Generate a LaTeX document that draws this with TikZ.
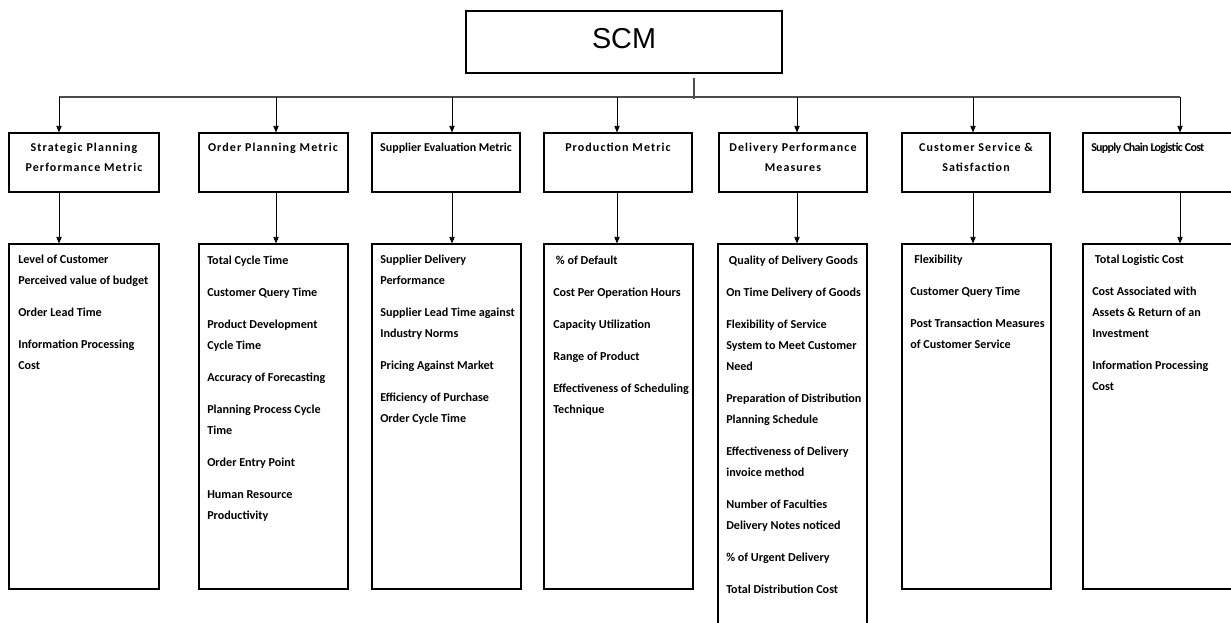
\documentclass[tikz,border=0pt]{standalone}
\usepackage{fontspec}
\setmainfont{Carlito}
\newfontfamily\arialf{Liberation Sans}
\usetikzlibrary{arrows.meta,fit}
\newcommand{\hlines}[1]{\begin{tabular}[t]{@{}c@{}}#1\end{tabular}}
\newcommand{\blines}[1]{\begin{tabular}[t]{@{}l@{}}#1\end{tabular}}
\begin{document}
\begin{tikzpicture}[x=0.75pt,y=-0.75pt,
  box/.style={draw=black,line width=0.8pt,inner sep=0pt,rectangle},
  topbox/.style={draw=black,line width=1.3pt,inner sep=0pt,rectangle},
  hdrtxt/.style={inner sep=0pt,font=\fontsize{9}{15}\selectfont\bfseries\addfontfeature{LetterSpace=9}},
  hdrtight/.style={inner sep=0pt,font=\fontsize{9}{15}\selectfont\bfseries},
  bodytxt/.style={inner sep=0pt,font=\fontsize{9.1}{15.75}\selectfont\bfseries},
  arr/.style={draw=black,line width=0.7pt,-{Triangle[length=5pt,width=4pt]}},
  bus/.style={draw=black!70,line width=1pt}]
\useasboundingbox (0,0) rectangle (1231,622);

% top node
\node[topbox,fit={(466,11)(782,73)}] (scm) {};
\node[inner sep=0pt,font=\arialf\fontsize{21.6}{24}\selectfont] (scmt) at (624,39) {SCM};

% bus
\coordinate (b1) at (59,97);
\coordinate (b2) at (276,97);
\coordinate (b3) at (452,97);
\coordinate (b4) at (617,97);
\coordinate (b5) at (797,97);
\coordinate (b6) at (973,97);
\coordinate (b7) at (1180,97);
\coordinate (s2) at (694,99);
\draw[bus] (b1) -- (b7);
\draw[bus] ([yshift=-3pt]scm.south -| s2) -- (s2);

% headers
\node[box,fit={(9,133)(159,192)}] (h1) {};
\node[box,fit={(199,133)(348,192)}] (h2) {};
\node[box,fit={(372,133)(520,192)}] (h3) {};
\node[box,fit={(544,133)(692,192)}] (h4) {};
\node[box,fit={(719,133)(867,192)}] (h5) {};
\node[box,fit={(902,133)(1050,192)}] (h6) {};
\node[box,fit={(1083,133)(1240,192)}] (h7) {};

\node[hdrtxt,anchor=base] (ht1) at (84,151.5) {\hlines{Strategic Planning\\Performance Metric}};
\node[hdrtxt,anchor=base] (ht2) at (273,151) {Order Planning Metric};
\node[hdrtight,anchor=base] (ht3) at (446,151) {Supplier Evaluation Metric};
\node[hdrtxt,anchor=base] (ht4) at (618,151) {Production Metric};
\node[hdrtxt,anchor=base] (ht5) at (793,151.5) {\hlines{Delivery Performance\\Measures}};
\node[hdrtxt,anchor=base] (ht6) at (976,151.5) {\hlines{Customer Service \&\\Satisfaction}};
\node[hdrtight,anchor=base west,font=\fontsize{9}{15}\selectfont\bfseries\addfontfeature{LetterSpace=-6}] (ht7) at (1091,151) {Supply Chain Logistic Cost};

% bodies
\node[box,fit={(9,244)(159,589)}] (d1) {};
\node[box,fit={(199,244)(348,589)}] (d2) {};
\node[box,fit={(372,244)(521,589)}] (d3) {};
\node[box,fit={(544,244)(693,589)}] (d4) {};
\node[box,fit={(718,244)(867,640)}] (d5) {};
\node[box,fit={(902,244)(1051,589)}] (d6) {};
\node[box,fit={(1083,244)(1240,589)}] (d7) {};

\node[bodytxt,anchor=base west] (t1) at (18,263) {\blines{Level of Customer\\Perceived value of budget\\[8.25pt]Order Lead Time\\[8.25pt]Information Processing\\Cost}};
\node[bodytxt,anchor=base west] (t2) at (207,264) {\blines{Total Cycle Time\\[8.25pt]Customer Query Time\\[8.25pt]Product Development\\Cycle Time\\[8.25pt]Accuracy of Forecasting\\[8.25pt]Planning Process Cycle\\Time\\[8.25pt]Order Entry Point\\[8.25pt]Human Resource\\Productivity}};
\node[bodytxt,anchor=base west] (t3) at (380,263) {\blines{Supplier Delivery\\Performance\\[8.25pt]Supplier Lead Time against\\Industry Norms\\[8.25pt]Pricing Against Market\\[8.25pt]Efficiency of Purchase\\Order Cycle Time}};
\node[bodytxt,anchor=base west] (t4) at (553,264) {\blines{\hspace{2pt}\% of Default\\[8.25pt]Cost Per Operation Hours\\[8.25pt]Capacity Utilization\\[8.25pt]Range of Product\\[8.25pt]Effectiveness of Scheduling\\Technique}};
\node[bodytxt,anchor=base west] (t5) at (726,264) {\blines{\hspace{2pt}Quality of Delivery Goods\\[8.25pt]On Time Delivery of Goods\\[8.25pt]Flexibility of Service\\System to Meet Customer\\Need\\[8.25pt]Preparation of Distribution\\Planning Schedule\\[8.25pt]Effectiveness of Delivery\\invoice method\\[8.25pt]Number of Faculties\\Delivery Notes noticed\\[8.25pt]\% of Urgent Delivery\\[8.25pt]Total Distribution Cost}};
\node[bodytxt,anchor=base west] (t6) at (910,263) {\blines{\hspace{3pt}Flexibility\\[8.25pt]Customer Query Time\\[8.25pt]Post Transaction Measures\\of Customer Service}};
\node[bodytxt,anchor=base west] (t7) at (1092,263) {\blines{\hspace{2pt}Total Logistic Cost\\[8.25pt]Cost Associated with\\Assets \& Return of an\\Investment\\[8.25pt]Information Processing\\Cost}};

% arrows bus -> headers
\draw[arr] (b1) -- (b1 |- h1.north);
\draw[arr] (b2) -- (b2 |- h2.north);
\draw[arr] (b3) -- (b3 |- h3.north);
\draw[arr] (b4) -- (b4 |- h4.north);
\draw[arr] (b5) -- (b5 |- h5.north);
\draw[arr] (b6) -- (b6 |- h6.north);
\draw[arr] (b7) -- (b7 |- h7.north);
% arrows headers -> bodies
\draw[arr] (b1 |- h1.south) -- (b1 |- d1.north);
\draw[arr] (b2 |- h2.south) -- (b2 |- d2.north);
\draw[arr] (b3 |- h3.south) -- (b3 |- d3.north);
\draw[arr] (b4 |- h4.south) -- (b4 |- d4.north);
\draw[arr] (b5 |- h5.south) -- (b5 |- d5.north);
\draw[arr] (b6 |- h6.south) -- (b6 |- d6.north);
\draw[arr] (b7 |- h7.south) -- (b7 |- d7.north);
\end{tikzpicture}
\end{document}
